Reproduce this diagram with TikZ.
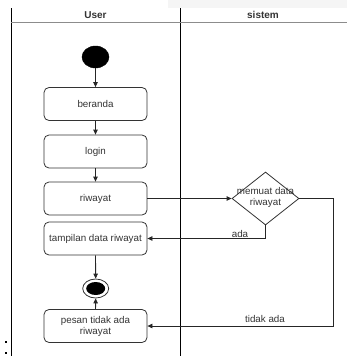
\documentclass[tikz,border=0pt]{standalone}
\usepackage{fontspec}
\setmainfont{Liberation Sans}
\usetikzlibrary{shapes.geometric,arrows.meta}
\begin{document}
\begin{tikzpicture}[x=1pt,y=-1pt,
  font=\fontsize{9.8}{11}\selectfont,
  act/.style={draw=black!80, line width=0.8pt, rounded corners=5pt, minimum width=103pt, minimum height=33pt, inner sep=1pt, text=black!80, align=center},
  conn/.style={draw=black!85, line width=0.8pt, -{Triangle[length=5pt,width=4.5pt]}},
  lane/.style={draw=black, line width=0.9pt},
  hdr/.style={font=\fontsize{10}{12}\selectfont\bfseries, text=black!80},
  lbl/.style={text=black!80, inner sep=0pt}
]
\useasboundingbox (0,0) rectangle (347,356);
\fill[black!4] (168,0) rectangle (347,8);
% swimlanes
\draw[lane] (11,8) -- (11,356);
\draw[lane] (180,8) -- (180,356);
\draw[draw=black!45, line width=1.4pt] (11,22.5) -- (347,22.5);
\node[hdr] (hu) at (95.5,15) {User};
\node[hdr] (hs) at (263,15) {sistem};
% nodes
\node[draw=black, fill=black, ellipse, minimum width=27pt, minimum height=22pt, inner sep=0pt] (start) at (95.5,57) {};
\node[act] (beranda) at (95.5,104) {beranda};
\node[act] (login) at (95.5,151.5) {login};
\node[act] (riwayat) at (95.5,198.5) {riwayat};
\node[act] (tampil) at (95.5,238.5) {tampilan data riwayat};
\node[draw=black!80, line width=0.8pt, ellipse, minimum width=26pt, minimum height=19pt, inner sep=0pt] (end) at (95.7,288.5) {};
\node[fill=black, ellipse, minimum width=19pt, minimum height=13pt, inner sep=0pt] (endin) at (95.7,288.5) {};
\node[act] (pesan) at (95.5,326) {pesan tidak ada\\riwayat};
\node[draw=black!80, line width=0.8pt, diamond, minimum width=67pt, minimum height=53pt, inner sep=0pt] (dec) at (265.5,198.5) {};
\node[align=center, text=black!80, inner sep=0pt] (dectxt) at (265.5,197.5) {memuat data\\riwayat};
\coordinate (rt) at (333,326);
% connectors
\draw[conn] (start) -- (beranda);
\draw[conn] (beranda) -- (login);
\draw[conn] (login) -- (riwayat);
\draw[conn] (riwayat.east) -- (dec.west);
\draw[conn] (dec.south) |- (tampil.east);
\draw[conn] (dec.east) -| (rt) -- (pesan.east);
\draw[conn] (tampil) -- (end);
\draw[conn] (pesan) -- (end);
\node[lbl] (lada) at (240,234) {ada};
\node[lbl] (ltidak) at (265,318.5) {tidak ada};
% stray marks
\fill[black] (4.5,341) rectangle (6.8,343.3);
\fill[black] (4.5,352) rectangle (6.8,354.3);
\end{tikzpicture}
\end{document}
